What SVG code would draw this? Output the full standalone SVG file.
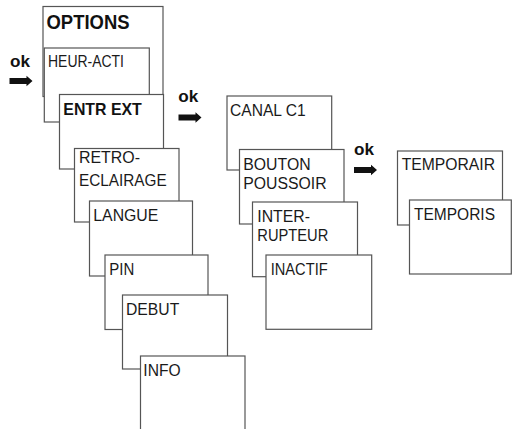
<svg xmlns="http://www.w3.org/2000/svg" width="512" height="429" viewBox="0 0 512 429">
  <style>
    .box { fill: #ffffff; stroke: #555555; stroke-width: 1.2; }
    .t { font-family: "Liberation Sans", Arial, sans-serif; font-size: 16px; fill: #1a1a1a; }
    .b { font-family: "Liberation Sans", Arial, sans-serif; font-weight: bold; fill: #111111; }
    .arrow { fill: #111111; }
  </style>
  <defs>
    <path id="arr" d="M0,-3 L17,-3 L17,-5.2 L23,0 L17,5.2 L17,3 L0,3 Z"/>
  </defs>
  <rect width="512" height="429" fill="#ffffff"/>

  <g id="options">
    <rect class="box" x="43" y="6.5" width="120" height="90"/>
    <text class="b" x="46.5" y="29.3" font-size="20" textLength="83" lengthAdjust="spacingAndGlyphs">OPTIONS</text>
  </g>
  <g id="heur-acti">
    <rect class="box" x="44.3" y="48" width="105" height="74"/>
    <text class="t" x="48" y="66.7" textLength="76" lengthAdjust="spacingAndGlyphs">HEUR-ACTI</text>
  </g>
  <g id="entr-ext">
    <rect class="box" x="59.5" y="94.5" width="104" height="74.5"/>
    <text class="b" x="63.3" y="115" font-size="16.5" textLength="78.5" lengthAdjust="spacingAndGlyphs">ENTR EXT</text>
  </g>
  <g id="retro">
    <rect class="box" x="74.5" y="148.5" width="104.5" height="73.5"/>
    <text class="t" x="79" y="163.3" textLength="61" lengthAdjust="spacingAndGlyphs">RETRO-</text>
    <text class="t" x="79" y="185.7" textLength="87.7" lengthAdjust="spacingAndGlyphs">ECLAIRAGE</text>
  </g>
  <g id="langue">
    <rect class="box" x="89.5" y="201" width="103" height="75"/>
    <text class="t" x="93.3" y="220.7" textLength="65" lengthAdjust="spacingAndGlyphs">LANGUE</text>
  </g>
  <g id="pin">
    <rect class="box" x="105" y="255" width="103" height="74.5"/>
    <text class="t" x="109.3" y="275" textLength="25" lengthAdjust="spacingAndGlyphs">PIN</text>
  </g>
  <g id="debut">
    <rect class="box" x="122.5" y="295" width="105" height="74"/>
    <text class="t" x="126" y="315" textLength="53.3" lengthAdjust="spacingAndGlyphs">DEBUT</text>
  </g>
  <g id="info">
    <rect class="box" x="140.5" y="356" width="104.5" height="90"/>
    <text class="t" x="143.3" y="375.7" textLength="37.3" lengthAdjust="spacingAndGlyphs">INFO</text>
  </g>

  <g id="canal-c1">
    <rect class="box" x="227" y="96" width="104.7" height="74"/>
    <text class="t" x="230" y="115.7" textLength="75.7" lengthAdjust="spacingAndGlyphs">CANAL C1</text>
  </g>
  <g id="bouton-poussoir">
    <rect class="box" x="239.5" y="149.5" width="104.5" height="74.5"/>
    <text class="t" x="243.3" y="170" textLength="67.3" lengthAdjust="spacingAndGlyphs">BOUTON</text>
    <text class="t" x="243.3" y="189" textLength="83.3" lengthAdjust="spacingAndGlyphs">POUSSOIR</text>
  </g>
  <g id="interrupteur">
    <rect class="box" x="252.5" y="202" width="105" height="74.7"/>
    <text class="t" x="257.3" y="222.3" textLength="52.7" lengthAdjust="spacingAndGlyphs">INTER-</text>
    <text class="t" x="257.3" y="241" textLength="71" lengthAdjust="spacingAndGlyphs">RUPTEUR</text>
  </g>
  <g id="inactif">
    <rect class="box" x="266" y="255" width="105.7" height="74.3"/>
    <text class="t" x="270.7" y="275" textLength="57" lengthAdjust="spacingAndGlyphs">INACTIF</text>
  </g>

  <g id="temporair">
    <rect class="box" x="397.5" y="151" width="105" height="74"/>
    <text class="t" x="401.7" y="170" textLength="93.3" lengthAdjust="spacingAndGlyphs">TEMPORAIR</text>
  </g>
  <g id="temporis">
    <rect class="box" x="409.5" y="200" width="101.8" height="74"/>
    <text class="t" x="414" y="220" textLength="81" lengthAdjust="spacingAndGlyphs">TEMPORIS</text>
  </g>

  <g id="connectors">
    <text class="b" x="10" y="66.7" font-size="17" textLength="20" lengthAdjust="spacingAndGlyphs">ok</text>
    <use href="#arr" class="arrow" transform="translate(9.5,81)"/>
    <text class="b" x="178.3" y="101.7" font-size="17" textLength="20" lengthAdjust="spacingAndGlyphs">ok</text>
    <use href="#arr" class="arrow" transform="translate(178.5,117.5)"/>
    <text class="b" x="354" y="155" font-size="17" textLength="20" lengthAdjust="spacingAndGlyphs">ok</text>
    <use href="#arr" class="arrow" transform="translate(354,170)"/>
  </g>
</svg>
